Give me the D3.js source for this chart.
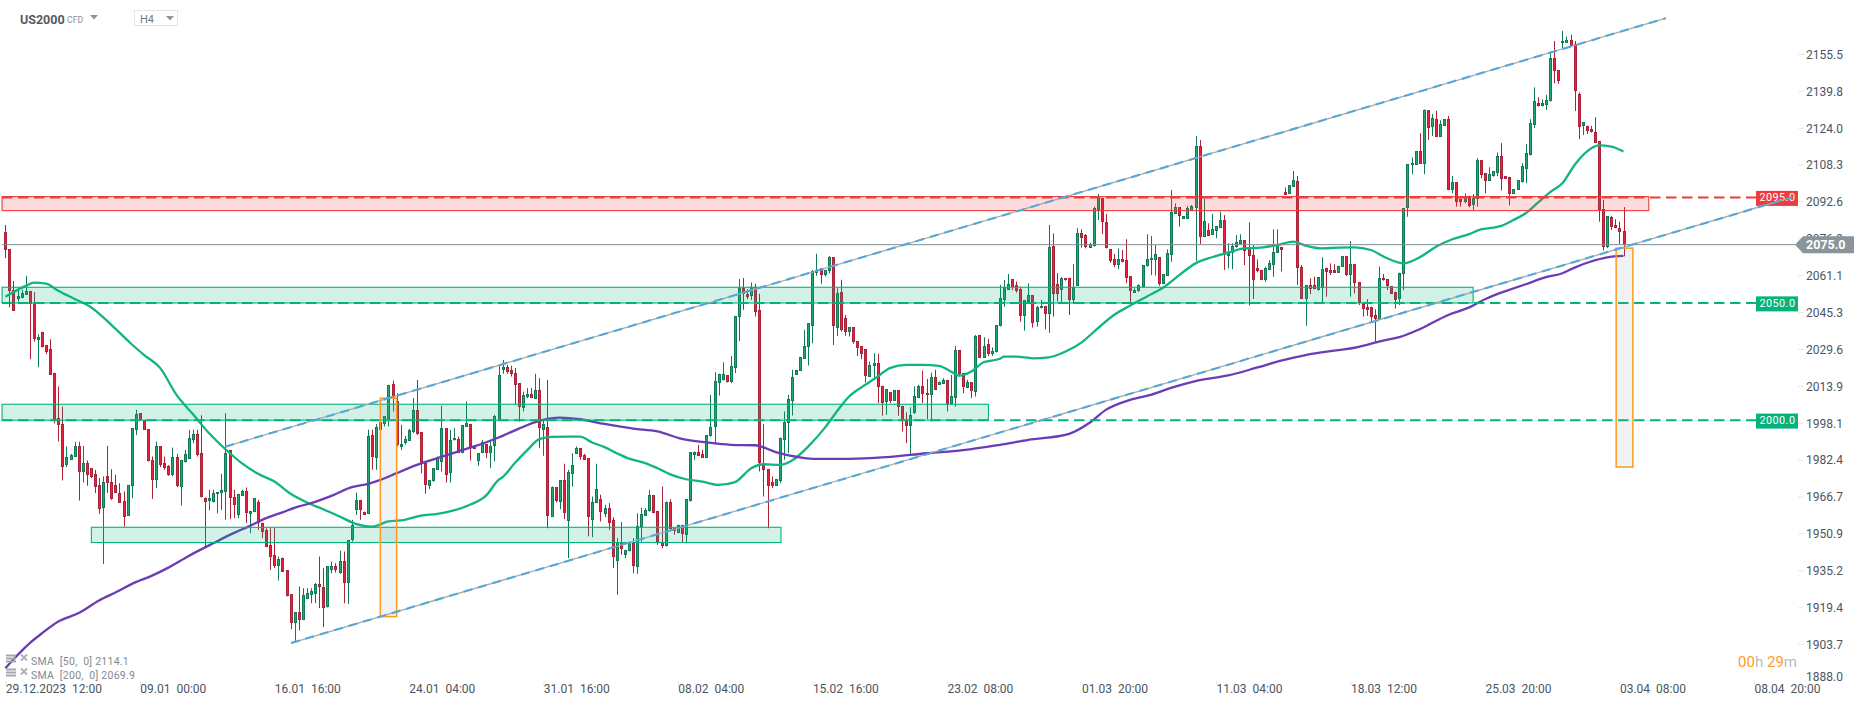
<!DOCTYPE html>
<html><head><meta charset="utf-8">
<script src="https://cdn.jsdelivr.net/npm/d3@7"></script>
<style>
html,body{margin:0;padding:0;background:#fff;overflow:hidden}
svg{display:block}
text{font-family:Roboto,"Noto Sans",sans-serif;white-space:pre}
</style></head><body>
<svg id="c" width="1866" height="707"></svg>
<script>
const opens=[
2080.2,2072.9,2055.6,2051.9,2052.3,2053.5,2055.2,2049.9,2034.4,2037.7,
2032.1,2030.4,2020.3,2000.8,1998.4,1980.9,1983.1,1984.5,1989,1977.7,
1981.7,1979.5,1977.1,1972.4,1962.2,1976.2,1973.5,1972.4,1969.1,1965.6,
1959.2,1971.7,1995.9,2003,2000.1,1996.3,1983.1,1974.5,1989,1981.7,
1980.5,1976.7,1984.5,1971.7,1981.9,1983.4,1991.6,1994,1985.9,1967,
1965.3,1964.9,1968.4,1968.6,1969.1,1987.1,1967.4,1959.6,1967.7,1969.8,
1960,1960.7,1965.3,1956.3,1953.2,1946.8,1942.5,1937.9,1941.4,1936.1,
1925.8,1913.4,1918.2,1914.8,1923.6,1925.5,1925.9,1930,1929,1920.1,
1936.1,1937.6,1935,1940.1,1930.7,1948.7,1961.7,1966,1961,1959.9,
1993.7,1984.2,1999.4,1998,2000.8,2015.4,2008,1988.8,1990.2,1991.2,
1995.2,2004.4,1994.9,1981.7,1972,1973.8,1978.8,1981.9,1996.6,1977.4,
1991.3,1991.9,1985.9,1997.3,1998.4,1988.8,1982.4,1985.9,1989.9,1986.2,
1988.8,1999.7,2021.5,2022.9,2021.5,2020.3,2015.8,2005.1,2010.1,2011.2,
2009.1,2012.9,1995.9,1997.2,1958.9,1971.4,1965.3,1974.5,1956.8,1977.1,
1985.6,1988,1985.2,1983.8,1957.5,1964.6,1966.3,1960.3,1962.7,1957.5,
1940,1948.2,1942.6,1944,1947.5,1937.6,1954.4,1959.2,1961,1968,
1961.3,1948.2,1946.4,1965.3,1953.9,1951.8,1955.4,1951.1,1965.3,1985.2,
1986.6,1985.6,1984.1,1993,1997.3,2016.1,2016.9,2019.3,2016.5,2022.5,
2044.2,2056.6,2053.9,2053.2,2057,2047.1,1980.7,1979.1,1973.8,1972,
1974.3,1991.6,1999,2008.2,2019.3,2021,2026.2,2031.2,2040.2,2063,
2064.8,2062,2063.4,2069.5,2039.2,2054.8,2043.5,2037.4,2039.7,2033.8,
2031.6,2030.3,2018.6,2022.9,2024.3,2014.7,2007.5,2011.9,2008.2,2012.9,
2006.1,2000.1,1997.6,2003,2009.4,2014.4,2011.5,2010.8,2018.6,2015.1,
2015.5,2017.2,2007,2009.7,2030,2020,2013.9,2016.2,2012.2,2036.4,
2026.7,2032.4,2028.3,2028.9,2040,2051.3,2055.5,2060.1,2057.7,2056,
2044.5,2050.6,2053.4,2041.6,2047.7,2048.7,2045.3,2074.3,2058.1,2055.3,
2060.5,2060.8,2051.6,2057.3,2079.7,2079,2073.7,2074,2089.7,2094.6,
2084.6,2073,2068.6,2066.2,2068.6,2068.3,2061.5,2054.4,2054.8,2056.7,
2065.5,2068.1,2068.1,2069.5,2058.1,2061.5,2070.6,2088,2090.8,2086,
2086.1,2089.4,2090.4,2117,2078.3,2081.1,2079,2080.7,2082.1,2085.4,
2070.1,2071.2,2073.6,2075.2,2076.9,2073.3,2070.5,2064.8,2064.1,2059.8,
2064.1,2066.2,2071.5,2074,2097.4,2096.4,2099.6,2102,2065.2,2051.7,
2057.5,2057.7,2055.5,2056.3,2065.1,2064.1,2064.1,2063,2065.5,2070,
2061.9,2066.6,2059,2049.6,2048.2,2048.4,2044.9,2042.7,2060.5,2060.1,
2057.3,2054.8,2051.7,2062.2,2090.4,2108.6,2108.9,2114.8,2109.3,2132.3,
2124.8,2128.5,2121,2125.5,2128.5,2098.2,2101.5,2094.5,2093.2,2095.8,
2091.8,2094.3,2111,2105.3,2102.1,2103.9,2105.6,2112.7,2104.2,2103.9,
2096.5,2098.2,2101.8,2107.2,2112.9,2126,2135.2,2133.8,2134.5,2135.9,
2154.4,2149.4,2160.8,2161.1,2162.2,2160.4,2139.2,2125.3,2125.7,2124.1,
2123.1,2119,2090,2073.8,2086.6,2083.3,2081.9,2080.8];
const closes=[
2072.4,2054.9,2046.8,2053,2054.4,2055.2,2049.6,2034.5,2035.5,2031.4,
2029.3,2019.5,1999.9,1997.7,1980.2,1984.1,1985.2,1989,1977.7,1981.7,
1976.7,1975.7,1971.7,1962.2,1973.5,1973.1,1966.3,1968.9,1964.9,1958.9,
1972.4,1996.6,2002.7,1999.9,1995.9,1982.6,1974.5,1989,1981,1979.5,
1976.7,1984.5,1972,1983.1,1985.5,1992.3,1994,1985.2,1967,1965.3,
1966.7,1968.9,1969.3,1970,1985.9,1966.7,1963.9,1968.6,1969.8,1960.3,
1961.3,1966.7,1956.3,1952.5,1946.1,1941.8,1937.9,1940.8,1935.4,1925,
1913.4,1918.2,1914.8,1925.5,1926.2,1927.3,1930,1928.6,1920.1,1937.6,
1937.9,1935.9,1940,1930.7,1948.9,1955.3,1966,1961.7,1959.9,1993.3,
1984.2,1997.3,1995.9,2001.6,2015.1,2009.4,1989.2,1989.9,1992,1995.9,
2004.4,1994.2,1981.7,1972.4,1974.5,1979.5,1983.8,1996.6,1976.7,1991.6,
1992.3,1985.9,1998,1999,1988,1987.6,1985.9,1990.5,1986.2,1989,
2001.6,2019.3,2022.6,2020.8,2019.8,2015.1,2005.4,2010.8,2011.2,2009.7,
2012.9,1996.9,1998.3,1959.2,1971.7,1965.3,1974.5,1960.3,1977.8,1980.9,
1988.3,1984.2,1983.1,1958.6,1965,1970.6,1960.6,1962.7,1956.3,1941.6,
1948.2,1945.4,1944.7,1947.5,1937.6,1954.9,1960,1961.8,1967.9,1960.3,
1948.2,1946.5,1965.3,1953.9,1952.5,1955.4,1951.4,1966.3,1986.4,1986.6,
1984.8,1984.1,1993.7,1997,2016.8,2019.8,2019.6,2016.5,2023.2,2044.5,
2056.6,2054.2,2052.8,2057,2046.4,1981.7,1978.5,1971.7,1972,1974.8,
1992.6,1999.4,2009.1,2018.3,2021.5,2027,2031.6,2041.4,2063.7,2063.6,
2062,2064.1,2069.5,2040,2054.2,2038.5,2037.4,2039.7,2033.1,2030.7,
2028.3,2018.6,2023.6,2024.3,2013.9,2007.5,2013.2,2008.2,2012.9,2005.5,
2000.1,1997.7,2002.3,2010.4,2014.4,2010.8,2010.5,2018.6,2012.9,2016.5,
2017.2,2007,2010.4,2030,2019.8,2013.9,2016.5,2012.5,2036,2026.7,
2031.7,2028.2,2029.6,2040.4,2052,2056.7,2058,2056.7,2055.3,2044.5,
2051.3,2053.4,2041.3,2048.2,2048.7,2045.3,2073.7,2053.8,2053.7,2060.5,
2059.5,2051.6,2057,2079.7,2077.6,2074,2075.2,2090.4,2095.1,2084.3,
2073.6,2067.9,2066.2,2068.6,2067.4,2060.5,2055.3,2055.5,2057.5,2066.2,
2068.6,2069.1,2070.8,2058.1,2062.2,2071.2,2088.8,2090.8,2087.1,2087.1,
2090.7,2091.4,2117,2078.3,2085,2078.6,2081.4,2082.8,2085.4,2070.5,
2071.9,2074.3,2075.9,2076.9,2072.3,2069.8,2059.8,2063.4,2059.8,2064.8,
2067.2,2071.9,2074.7,2072.6,2096.1,2100.2,2102.5,2064.8,2051.7,2057.5,
2055.8,2055.8,2060.9,2064.5,2063.4,2063,2063,2065.9,2070,2061.9,
2066.6,2058.4,2049.9,2047.4,2047,2044.2,2043.2,2060.5,2059.5,2057,
2053.8,2051.6,2062.9,2090.4,2109.3,2109.6,2114.8,2109.3,2132.3,2124.5,
2128.8,2121,2126.4,2128.5,2098.2,2101.5,2092.8,2093.2,2095.6,2091.4,
2094.6,2111,2104.6,2102.1,2105.1,2106.1,2112.7,2102.9,2102.9,2096.5,
2098.5,2102.5,2108.6,2113.9,2126.7,2136.1,2133.8,2135.2,2136.6,2154.4,
2148.7,2144.7,2161.7,2162.2,2159.8,2140.2,2125.3,2127.1,2123.6,2122.7,
2118.4,2089.4,2073.8,2086.9,2082.3,2081.9,2080,2074.8];
const highs=[
2083.3,2072.9,2059.4,2056.3,2055.6,2061.6,2055.2,2054.6,2036.7,2037.7,
2032.1,2034.5,2020.3,2014.4,2005.8,1988.8,1985.6,1990.8,1990.8,1989,
1982.8,1979.5,1978.8,1975.3,1976,1989,1979.1,1976.7,1973.1,1969.6,
1972.4,1996.6,2004.4,2003,2000.1,1996.3,1984.5,1990.9,1989,1984.5,
1980.9,1988.3,1985.6,1983.1,1987.3,1995.9,1995.9,1995.9,2002.1,1967,
1970.3,1970.3,1969.3,1977.1,2003,1987.3,1970.3,1968.6,1970.3,1971.3,
1961.3,1966.7,1966,1956.3,1953.9,1953.9,1953.9,1941.8,1941.4,1936.1,
1925.8,1918.2,1929,1928.3,1928.3,1928.3,1930.5,1941.8,1936.9,1937.6,
1939.7,1939,1944.3,1944,1948.9,1957.5,1969.1,1966,1961,1995.9,
1995.9,1998.4,1999.4,2001.6,2015.1,2016.9,2011.5,1998,1993.3,1996.2,
2009.4,2017.2,1994.9,1981.7,1974.5,1979.5,1984.5,2006.1,1996.6,1995.9,
1996.6,1993,1998,2008,1998.4,1988.8,1985.9,1991.6,1989.9,1991.6,
2002.3,2023.6,2025.7,2023.6,2023.2,2022.2,2015.8,2012.2,2013.7,2013.7,
2019.8,2017.9,2000.4,2017.2,1971.7,1971.4,1974.5,1981.4,1978.8,1985.9,
1988.8,1988,1985.6,1983.8,1967.4,1981.4,1968.2,1963.9,1964.6,1958.6,
1949.7,1956.5,1944.7,1947.5,1949.7,1960.3,1962.7,1962.5,1970.3,1968,
1961.3,1971.7,1965.3,1966.3,1953.9,1955.4,1955.4,1966.3,1986.4,1986.6,
1989.5,1987.4,1993.7,2010.8,2020.5,2019.8,2024.7,2019.3,2027.4,2044.5,
2060.2,2060.6,2055.9,2058.7,2058.2,2053.9,1998.3,1979.1,1976,1974.8,
1992.6,2003.7,2010.8,2021.5,2021.5,2027,2038.5,2041.4,2064.1,2071,
2064.8,2064.1,2070.1,2069.5,2056.3,2059.9,2044.9,2039.7,2039.7,2033.8,
2031.6,2030.3,2025,2028.6,2028.3,2014.7,2013.2,2011.9,2012.9,2012.9,
2006.1,2003.3,2005.5,2014.4,2015.1,2021.2,2017.6,2020.3,2021.5,2016.5,
2017.9,2017.2,2019.3,2031.7,2030,2020,2017.2,2016.2,2036.4,2036.4,
2035.4,2034.7,2031.1,2040.4,2057.7,2059.8,2062.4,2060.1,2059.1,2057,
2051.3,2058.4,2053.4,2048.7,2051.3,2048.7,2083.3,2079.7,2062.7,2061,
2060.5,2060.8,2066.6,2081.9,2081.4,2079.4,2075.7,2091.1,2096.5,2094.6,
2088,2073,2070.9,2073.3,2072.6,2077.2,2061.5,2056.3,2057.9,2066.2,
2079.3,2078.6,2074.7,2069.5,2062.2,2072.9,2098.2,2092.5,2090.8,2087.1,
2091.4,2091.8,2121.2,2119.5,2094.6,2084,2088,2082.8,2089,2087.5,
2075.5,2075.5,2079,2079.3,2076.9,2084.4,2074.7,2068.6,2064.1,2065.5,
2068.3,2081.4,2081.4,2074,2099.3,2100.2,2106.3,2104.2,2066.2,2057.5,
2060.5,2061.2,2060.9,2069.5,2065.1,2066.9,2066.6,2065.9,2070,2070,
2076.4,2066.6,2059,2049.6,2051.6,2048.4,2047.3,2065.5,2062.4,2060.1,
2057.3,2054.8,2062.9,2090.4,2109.3,2112.1,2114.8,2122.4,2132.6,2132.3,
2130.6,2132,2128,2128.5,2129.8,2104.2,2101.5,2094.5,2096.8,2095.8,
2096.5,2111.8,2111,2105.3,2107.9,2106.1,2114.2,2118.2,2104.2,2103.9,
2098.5,2102.5,2109.6,2117.9,2128.4,2142,2137.8,2136.9,2138.8,2157.3,
2161.8,2149.4,2166.1,2163.7,2164.4,2161.8,2139.8,2127.1,2125.7,2125.5,
2129.2,2119,2094,2086.9,2087.2,2085.7,2084.7,2090.9];
const lows=[
2069.1,2048.2,2046.8,2050.6,2052,2053.5,2026,2033.5,2022.6,2031,
2028.2,2019.5,1998.7,1990.9,1974.3,1980,1983.1,1984.5,1965.7,1973.4,
1972,1975.3,1968.9,1960,1938.7,1968.9,1966,1968.9,1964.9,1954.6,
1959.2,1966.7,1993.7,1999.9,1995.9,1982.4,1966.4,1971,1980,1978.8,
1976.2,1976,1971.4,1963.6,1981.9,1983.4,1990.2,1984.5,1967,1945.4,
1961.5,1964.9,1960.3,1961.7,1957.5,1957.8,1958.2,1958.2,1967.7,1956.1,
1951.8,1960.7,1953.2,1949.7,1945.8,1936.1,1936.9,1931.6,1935.4,1924.8,
1910.8,1905.6,1910.3,1914.8,1923.6,1921.9,1921.9,1919.8,1911.7,1920.1,
1934.7,1935,1934.4,1921.9,1921.6,1948.2,1959.6,1957.5,1959.9,1959.9,
1978.8,1978.8,1995.9,1997.3,1997.3,2003.7,1988.8,1987.3,1989.5,1991.2,
1994.5,1993.7,1977.4,1968.6,1970.6,1973.8,1978.8,1978.1,1973.4,1973.4,
1991.3,1985.9,1985.9,1997.3,1982.8,1987.6,1980.5,1985.9,1983.8,1979.5,
1982.4,1999.7,2019.8,2019.8,2018.6,2006.5,1999.4,2003.7,2009.4,2009.7,
2009.1,1988.1,1984.8,1953.9,1958.9,1964.9,1962,1957.8,1941.1,1971.7,
1985.6,1983.1,1983.1,1950.4,1950.1,1964.6,1956.8,1958.6,1953.2,1936.9,
1925.5,1942.6,1941.1,1944,1934.7,1934.4,1948.2,1959.2,1961,1960.3,
1946.8,1945.4,1946.1,1953.9,1951.1,1951.8,1947.8,1947.5,1965.3,1983.1,
1984.8,1984.1,1984.1,1993,1989.5,2010.5,2016.9,2016.1,2015.8,2020.1,
2033.8,2047.1,2051.6,2051.3,2044.2,1978.1,1967.4,1953.9,1971,1972,
1973.1,1983.1,1985.9,2002,2019.3,2021,2026.2,2023.3,2032.8,2061.6,
2058.2,2061.3,2062.7,2032.1,2036,2037.8,2036,2035.7,2032.6,2027.4,
2026,2016.1,2018.6,2017.9,2007.3,2001.9,2002.3,2007.3,2008.2,2001.9,
1995.2,1990.2,1985.2,2002.7,2009.4,2007.3,2000.4,1999.4,2012.9,2015.1,
2015.5,2003.7,2007,2005.8,2018.6,2011.5,2013.9,2009.4,2010.1,2026.7,
2026.7,2027.4,2027.4,2028.9,2040,2048.4,2055.5,2055.5,2054.4,2042,
2038.2,2050.6,2039.5,2039.9,2047.7,2038.8,2037.3,2044.2,2050.6,2050.1,
2059.5,2044.9,2049.6,2057.3,2073.6,2073.3,2073.7,2074,2085.4,2079.4,
2073.3,2067.2,2065.2,2064.4,2067.4,2058.4,2050.1,2054.4,2054.8,2056.7,
2065.5,2061.9,2061.7,2057.3,2058.1,2061.5,2067.6,2088,2082.6,2086,
2086.1,2089.4,2067.9,2075.2,2078.3,2078.6,2079,2077.6,2082.1,2064.1,
2064.8,2064.4,2073.6,2075.2,2066.2,2048.9,2051.7,2063,2059.8,2059,
2064.1,2061.2,2071.5,2063.4,2096.1,2096.4,2099.6,2057.7,2051.7,2040.3,
2053.8,2055.8,2055.3,2050.1,2052.7,2061.9,2063,2063,2065.5,2061.5,
2052.7,2054.1,2049.1,2044.2,2044.5,2042,2033.2,2042.7,2059.5,2055.5,
2053.8,2047.7,2049.1,2055.5,2086.8,2105,2108.9,2109.3,2105,2119.5,
2121.2,2121,2121,2125.5,2098.2,2096.8,2091.1,2091.1,2092.5,2090.8,
2089.7,2091.1,2103.2,2096.8,2102.1,2103.9,2104.2,2098,2102.9,2091.6,
2096.5,2098.2,2101.4,2101.1,2112.9,2124.6,2133.8,2133.8,2132.4,2135.9,
2143.7,2143.5,2158.7,2161.1,2159.8,2131.9,2119.9,2121.7,2122.1,2122.7,
2118.2,2084.7,2072.4,2073.4,2081.2,2081.9,2075.2,2069.9];

const sma50Bars=[0,3,5,7,10,13,17,21,26,31,34,38,42,46,50,54,58,62,66,70,74,78,82,86,90,94,98,102,106,110,114,118,121,122,125,128,131,134,138,141,144,147,150,153,157,160,163,167,171,175,179,183,186,190,193,197,201,204,207,211,214,217,221,225,229,232,234,237,240,244,245,248,252,256,260,264,268,272,276,280,284,288,292,296,300,304,308,312,316,319,323,327,331,335,339,343,347,351,355,359,362,365,367,370,373,376,379,382,385,388,391,394,397];
const sma50Vals=[2052.7,2055.6,2057.3,2058.7,2058.3,2055.2,2051.7,2048.2,2040.7,2032.4,2027.9,2022.2,2010.8,2002.6,1994.4,1987.6,1981.7,1977.1,1973.8,1968.6,1964.9,1962,1958.9,1955.8,1954.6,1956.8,1957.5,1959.3,1960,1961.5,1963.9,1967.9,1974.5,1975.7,1981.7,1987.1,1991.9,1992.9,1993,1993,1990.5,1988.5,1985.9,1983.6,1981.7,1979.5,1977,1974.8,1973.8,1972.4,1973.6,1979.5,1981.2,1980.9,1982.8,1988.8,1996.6,2003.7,2010.1,2015.1,2018.6,2022.2,2023.6,2023.6,2023.2,2020.8,2019,2020.8,2024.7,2026.2,2027.1,2027.1,2026.4,2026.8,2029.2,2033.1,2039.2,2044.9,2048.9,2052.7,2056.5,2061.9,2066.9,2069.5,2071.5,2073.3,2073.6,2074.7,2076.2,2074.5,2073.3,2073.6,2073.7,2072.6,2069.1,2066.9,2069.5,2074,2077.2,2079.3,2081.4,2082.1,2082.9,2085.4,2088.3,2092.8,2097.3,2101.1,2108.9,2114.6,2117.2,2116.7,2114.6];
const sma200Bars=[0,6,9,13,18,23,27,32,36,40,45,51,56,60,64,68,72,75,80,85,89,92,96,101,106,111,115,118,121,122,126,131,136,141,147,154,160,166,172,178,184,189,194,198,207,216,226,235,244,251,261,266,270,276,281,286,292,300,307,313,319,327,331,338,342,347,354,359,363,366,367,373,378,382,385,389,393,397];
const sma200Vals=[1894.2,1904.9,1909.1,1914.1,1917.7,1923.1,1926.5,1930.9,1933.7,1937.1,1942.1,1947.5,1951.8,1954.9,1958.2,1960.7,1963.2,1964.6,1967.7,1971.4,1972.8,1974.5,1977.4,1980.9,1983.8,1986.6,1988.8,1990.6,1992.6,1993.3,1996.4,1999.7,2001.1,2000.4,1998.4,1996.4,1995.2,1992,1990.5,1989.5,1989.3,1986.4,1984.4,1983.5,1983.5,1984.2,1985.9,1987.2,1989.5,1991.6,1994.2,1998.9,2004.4,2008.7,2010.8,2013.8,2016.7,2019.1,2022.4,2025.4,2027.8,2029.9,2030.9,2033.9,2035.4,2038.8,2044.9,2048,2051.6,2053.8,2054.4,2058,2061,2062.7,2065.1,2067.7,2069.5,2070.1];

const channelUpperBars=[54,407.4], channelUpperVals=[1988.7,2171.5];
const channelLowerBars=[70.1,438.3], channelLowerVals=[1904.9,2095.1];

const zoneBars=[[-0.8,403.2],[-0.8,360.1],[-0.8,241.2],[21.1,190.3]];
const zoneTops=[2095.4,2056.7,2006.8,1954.3];
const zoneBottoms=[2089.4,2050,2000,1947.8];
const zoneKinds=["red","green","green","green"];

const levels=[2095,2050,2000];
const levelLabels=["2095.0","2050.0","2000.0"];
const levelKinds=["red","green","green"];
const lastPrice=2075;

const boxBars=[[92,96],[395.2,399.3]];
const boxTops=[2009.4,2073.4];
const boxBottoms=[1916.2,1980];

const yTicks=[2155.5,2139.8,2124.0,2108.3,2092.6,2076.9,2061.1,2045.3,2029.6,2013.9,1998.1,1982.4,1966.7,1950.9,1935.2,1919.4,1903.7,1888.0];
const xTickBars=[0,33,66,99,132,165,198,231,264,297,330,363,396,429];
const xTickLabels=["29.12.2023  12:00","09.01  00:00","16.01  16:00","24.01  04:00","31.01  16:00","08.02  04:00","15.02  16:00","23.02  08:00","01.03  20:00","11.03  04:00","18.03  12:00","25.03  20:00","03.04  08:00","08.04  20:00"];

const COL={upEdge:"#0f7a55",upFill:"#1fa874",downEdge:"#ad2238",downFill:"#ee1f3b",
  red:"#ee3b3b",green:"#05b27a",sma50:"#10b583",sma200:"#6a3cb5",txt:"#4c5560",orange:"#ff9a1f"};

const svg=d3.select("#c");
const x=d3.scaleLinear().domain([0,397]).range([5.33,5.33+4.076*397]);
const y=d3.scaleLinear().domain([2155.5,1888]).range([55.7,682.7]);
const px=i=>Math.round(x(i))+0.5;
const isUp=i=>closes[i]>=opens[i];

// candles
const bars=d3.range(opens.length);
const gC=svg.append("g");
gC.selectAll("line").data(bars).join("line")
  .attr("x1",px).attr("x2",px)
  .attr("y1",i=>y(highs[i])).attr("y2",i=>y(lows[i]))
  .attr("stroke",i=>isUp(i)?COL.upEdge:COL.downEdge).attr("stroke-width",1);
gC.selectAll("rect").data(bars).join("rect")
  .attr("x",i=>px(i)-1).attr("width",2)
  .attr("y",i=>Math.round(y(Math.max(opens[i],closes[i])))+.5)
  .attr("height",i=>Math.max(1,Math.round(Math.abs(y(opens[i])-y(closes[i])))-1))
  .attr("fill",i=>isUp(i)?COL.upFill:COL.downFill)
  .attr("stroke",i=>isUp(i)?COL.upEdge:COL.downEdge).attr("stroke-width",1);

// SMA lines
const lineOf=(xs,vs)=>d3.line().x((d,k)=>x(xs[k])).y(d=>y(d)).curve(d3.curveMonotoneX)(vs);
svg.append("path").attr("d",lineOf(sma50Bars,sma50Vals)).attr("fill","none").attr("stroke",COL.sma50).attr("stroke-width",2.3);
svg.append("path").attr("d",lineOf(sma200Bars,sma200Vals)).attr("fill","none").attr("stroke",COL.sma200).attr("stroke-width",2.3);

// zones
const gZ=svg.append("g");
zoneTops.forEach((t,k)=>{
  const c=COL[zoneKinds[k]];
  gZ.append("rect").attr("x",x(zoneBars[k][0])).attr("width",x(zoneBars[k][1])-x(zoneBars[k][0]))
    .attr("y",y(t)).attr("height",y(zoneBottoms[k])-y(t))
    .attr("fill",c).attr("fill-opacity",0.18).attr("stroke",c).attr("stroke-width",1.1);
});

// level lines
const levelEnd=x.invert(1757), levelStart=x.invert(2);
levels.forEach((v,k)=>{
  svg.append("line").attr("x1",x(levelStart)).attr("x2",x(levelEnd)).attr("y1",y(v)).attr("y2",y(v))
    .attr("stroke",COL[levelKinds[k]]).attr("stroke-width",2).attr("stroke-dasharray","10.5 5.5");
});

// last price line
svg.append("line").attr("x1",2).attr("x2",1795).attr("y1",y(lastPrice)+.3).attr("y2",y(lastPrice)+.3)
  .attr("stroke","#7f8b93").attr("stroke-width",1);

// order boxes
boxTops.forEach((t,k)=>{
  svg.append("rect").attr("x",x(boxBars[k][0])).attr("width",x(boxBars[k][1])-x(boxBars[k][0]))
    .attr("y",y(t)).attr("height",y(boxBottoms[k])-y(t))
    .attr("fill","#7f9aa8").attr("fill-opacity",0.12).attr("stroke",COL.orange).attr("stroke-width",1.5);
});

// labels on right
const labelW=42,labelH=15;
levels.forEach((v,k)=>{
  const cy=y(v)+1.4;
  svg.append("rect").attr("x",1756).attr("width",labelW).attr("y",cy-labelH/2-.5).attr("height",labelH)
    .attr("fill",COL[levelKinds[k]]);
  svg.append("text").attr("x",1777.5).attr("y",cy-1.5).attr("dy","0.35em").attr("text-anchor","middle")
    .attr("font-size",10.8).attr("letter-spacing",.45).attr("fill","#fff").text(levelLabels[k]);
});

// channel lines
[[channelUpperBars,channelUpperVals],[channelLowerBars,channelLowerVals]].forEach(([b,v])=>{
  const d=`M${x(b[0])},${y(v[0])}L${x(b[1])},${y(v[1])}`;
  svg.append("path").attr("d",d).attr("stroke","#a9a9a9").attr("stroke-width",1.3).attr("fill","none");
  svg.append("path").attr("d",d).attr("stroke","#55a7d8").attr("stroke-width",2.1).attr("fill","none").attr("stroke-dasharray","9 6");
});

// y axis
const yAx=svg.append("g");
yTicks.forEach((t,k)=>{
  const ty=y(t)-1.3, last=k===yTicks.length-1;
  if(!last) yAx.append("line").attr("x1",1798).attr("x2",1804).attr("y1",ty).attr("y2",ty).attr("stroke","#e6e8ea");
  yAx.append("text").attr("x",1806).attr("y",last?ty-4.6:ty).attr("dy","0.36em").attr("font-size",12)
    .attr("fill",COL.txt).text(t.toFixed(1));
});

// last price tag
const ly=y(lastPrice)+.3;
svg.append("path").attr("d",`M1795,${ly}L1803,${ly-8.5}H1854V${ly+8.5}H1803Z`).attr("fill","#8a9499");
svg.append("text").attr("x",1806).attr("y",ly).attr("dy","0.36em").attr("font-size",12.5).attr("font-weight",700)
  .attr("fill","#fff").text(lastPrice.toFixed(1));

// x axis
const xAxis=d3.axisBottom(x).tickValues(xTickBars).tickFormat((d,k)=>xTickLabels[k]).tickSize(4).tickPadding(3);
const xg=svg.append("g").attr("transform","translate(0,681)").call(xAxis);
xg.select(".domain").remove();
xg.selectAll(".tick line").attr("stroke","#e3e5e7");
xg.selectAll(".tick text").attr("text-anchor","start").attr("font-size",12).attr("font-family","Roboto")
  .attr("fill",COL.txt).attr("y",3).attr("dy","0.71em");

// header
svg.append("text").attr("x",20).attr("y",23.5).attr("font-size",12.5).attr("font-weight",700).attr("fill","#525c65").text("US2000");
svg.append("text").attr("x",67).attr("y",22.5).attr("font-size",8.7).attr("fill","#8b8f93").text("CFD");
svg.append("path").attr("d","M90,15H98L94,19.5Z").attr("fill","#8f9498");
svg.append("rect").attr("x",134.5).attr("y",10.5).attr("width",43).attr("height",15).attr("fill","#fff").attr("stroke","#e3e5e7");
svg.append("text").attr("x",140).attr("y",22.5).attr("font-size",11).attr("fill","#6f7980").text("H4");
svg.append("path").attr("d","M166,16H174L170,20.5Z").attr("fill","#8f9498");

// legend
const legendText=["SMA  [50,  0] 2114.1","SMA  [200,  0] 2069.9"];
const legendY=[661.5,675.5];
legendText.forEach((t,k)=>{
  const g=svg.append("g");
  [0,3,6].forEach(o=>g.append("rect").attr("x",6).attr("y",legendY[k]-7+o).attr("width",10).attr("height",2).attr("fill","#a5a8ab"));
  g.append("path").attr("d",`M21,${legendY[k]-7}l6,6m0,-6l-6,6`).attr("stroke","#b0b3b6").attr("stroke-width",2);
  g.append("text").attr("x",31).attr("y",legendY[k]).attr("dy","0.36em").attr("font-size",10.5).attr("letter-spacing",.25).attr("fill","#85898d").text(t);
});

// countdown
const cd=svg.append("text").attr("x",1797).attr("y",662).attr("dy","0.36em").attr("text-anchor","end").attr("font-size",15);
[["00",COL.orange],["h ","#b8bcc0"],["29",COL.orange],["m","#b8bcc0"]].forEach(([s,c])=>cd.append("tspan").attr("fill",c).text(s));
</script></body></html>
